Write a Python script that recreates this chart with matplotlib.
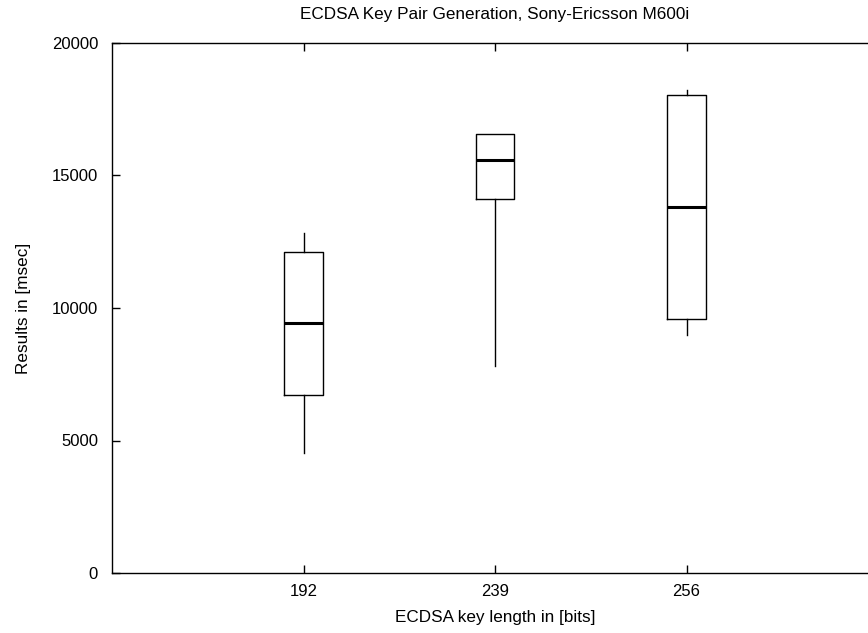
import matplotlib
matplotlib.use('Agg')
import matplotlib.pyplot as plt

# key lengths and box statistics
key_lengths = ['192', '239', '256']
whisker_low = [4530, 7810, 8980]
q1 = [6720, 14100, 9600]
medians = [9420, 15590, 13810]
q3 = [12120, 16560, 18050]
whisker_high = [12830, 16560, 18230]

plt.rcParams['font.family'] = ['Liberation Sans', 'DejaVu Sans']
plt.rcParams['font.size'] = 12

fig = plt.figure(figsize=(8.68, 6.33), dpi=100)
ax = fig.add_axes([112 / 868, 60 / 633, 766 / 868, 530 / 633])

stats = []
for i in range(len(key_lengths)):
    stats.append({'whislo': whisker_low[i], 'q1': q1[i], 'med': medians[i],
                  'q3': q3[i], 'whishi': whisker_high[i], 'fliers': [],
                  'label': key_lengths[i]})

ax.bxp(stats, positions=[1, 2, 3], widths=0.2, showcaps=False,
       showfliers=False,
       boxprops=dict(color='black', linewidth=1),
       whiskerprops=dict(color='black', linewidth=1),
       medianprops=dict(color='black', linewidth=2.2))

ax.set_xlim(0, 4)
ax.set_ylim(0, 20000)
ax.set_xticks([1, 2, 3])
ax.set_xticklabels(key_lengths)
ax.set_yticks([0, 5000, 10000, 15000, 20000])
ax.tick_params(direction='in', length=6, width=1, top=True, pad=8)
ax.tick_params(axis='y', pad=10)

for s in ax.spines.values():
    s.set_linewidth(1)

ax.set_title('ECDSA Key Pair Generation, Sony-Ericsson M600i', fontsize=12.3,
             pad=17)
ax.set_xlabel('ECDSA key length in [bits]', fontsize=12.3, labelpad=8)
ax.set_ylabel('Results in [msec]', fontsize=12.3, labelpad=15)

plt.savefig('out.png', dpi=100)
